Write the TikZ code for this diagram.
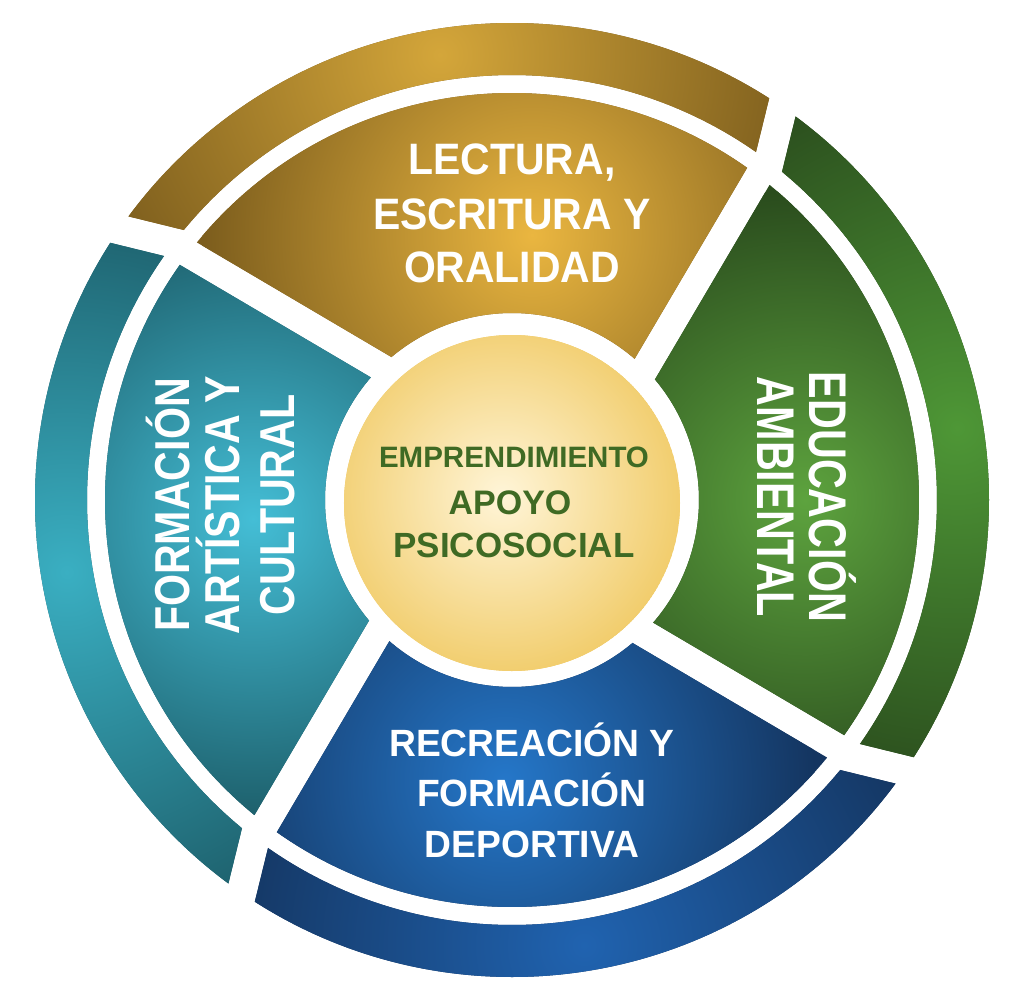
\documentclass[tikz,border=0pt]{standalone}
\usepackage{fontspec}
\setmainfont{Liberation Sans}
\usepackage{graphicx}
\usetikzlibrary{calc}
\definecolor{goldL}{HTML}{EAB640}
\definecolor{goldD}{HTML}{7C5D1D}
\definecolor{goldR}{HTML}{D4A63A}
\definecolor{tealL}{HTML}{44BED6}
\definecolor{tealD}{HTML}{1D5F6B}
\definecolor{tealR}{HTML}{3AAFC2}
\definecolor{grnL}{HTML}{5DA33E}
\definecolor{grnD}{HTML}{2A4C1D}
\definecolor{grnR}{HTML}{4E9736}
\definecolor{bluL}{HTML}{2577C9}
\definecolor{bluD}{HTML}{143560}
\definecolor{bluR}{HTML}{2063B0}
\definecolor{coreL}{HTML}{FFF5D8}
\definecolor{coreD}{HTML}{F1CC6A}
\definecolor{coreT}{HTML}{3F6A24}
% inner segment: #1 gap angle, #2 light, #3 dark, #4 spot (x,y), #5 shade radius
\newcommand\innerseg[5]{%
  \pgfmathsetmacro\sgA{#1}\pgfmathsetmacro\sgB{#1+90}%
  \begin{scope}
    \clip (\sgA-15:407) arc[start angle=\sgA-15, end angle=\sgB, radius=407]
      -- (\sgB:187) arc[start angle=\sgB, end angle=\sgA-15, radius=187] -- cycle;
    \clip ($(\sgA+180:100)+(\sgA-90:34)$) -- ($(\sgA:900)+(\sgA-90:34)$)
      -- (\sgA+45:1300) -- ($(\sgB:900)+(\sgB-90:62)$)
      -- ($(\sgB+180:100)+(\sgB-90:62)$) -- cycle;
    \fill[#3] (-600,-600) rectangle (600,600);
    \shade[inner color=#2, outer color=#3] (#4) circle (#5);
  \end{scope}}
% outer ring arc: #1 gap angle, #2 light, #3 dark, #4 shade radius
\newcommand\ringarc[4]{%
  \pgfmathsetmacro\rgA{#1}\pgfmathsetmacro\rgB{#1+90}%
  \pgfmathsetmacro\rgP{#1+22}\pgfmathsetmacro\rgQ{#1+112}%
  \begin{scope}
    \clip (\rgA-10:477) arc[start angle=\rgA-10, end angle=\rgB+10, radius=477]
      -- (\rgB+10:425) arc[start angle=\rgB+10, end angle=\rgA-10, radius=425] -- cycle;
    \clip ($(\rgA:451)+(\rgP+180:150)+(\rgP+90:15)$) -- ($(\rgA:451)+(\rgP:200)+(\rgP+90:15)$)
      -- (\rgA+45:1300) -- ($(\rgB:451)+(\rgQ:200)+(\rgQ-90:15)$)
      -- ($(\rgB:451)+(\rgQ+180:150)+(\rgQ-90:15)$) -- cycle;
    \fill[#3] (-600,-600) rectangle (600,600);
    \shade[inner color=#2, outer color=#3] (\rgA+45:451) circle (#4);
  \end{scope}}
\newcommand\labtxt[3]{\scalebox{#2}[1]{\fontsize{#1}{#1}\selectfont\bfseries #3}}
\tikzset{
  seglab/.style={text=white, anchor=base, inner sep=0pt},
  corelab/.style={text=coreT, anchor=base, inner sep=0pt}
}
\begin{document}
\begin{tikzpicture}[x=1pt,y=1pt]
\useasboundingbox (-512,-499) rectangle (512,500);
\fill[white] (-512,-499) rectangle (512,500);
% outer ring
\ringarc{54.2}{goldR}{goldD}{370}
\ringarc{144.2}{tealR}{tealD}{370}
\ringarc{234.2}{bluR}{bluD}{370}
\ringarc{324.2}{grnR}{grnD}{370}
% inner segments
\innerseg{59.5}{goldL}{goldD}{20,265}{330}
\innerseg{149.5}{tealL}{tealD}{-259,-19}{300}
\innerseg{239.5}{bluL}{bluD}{-7,-280}{310}
\innerseg{329.5}{grnL}{grnD}{293,0}{310}
% core
\begin{scope}
  \clip (0,-3) circle (168);
  \fill[coreD] (0,-3) circle (168);
  \shade[inner color=coreL, outer color=coreD] (-10,5) circle (185);
\end{scope}
% top label
\node[seglab] (top1) at (0,325) {\labtxt{44}{0.93}{LECTURA,}};
\node[seglab] (top2) at (0,270) {\labtxt{44}{0.93}{ESCRITURA Y}};
\node[seglab] (top3) at (0,218) {\labtxt{44}{0.93}{ORALIDAD}};
% left label
\node[seglab, rotate=90] (lft1) at (-322,-5) {\labtxt{49}{0.84}{FORMACIÓN}};
\node[seglab, rotate=90] (lft2) at (-272,-5) {\labtxt{49}{0.84}{ARTÍSTICA Y}};
\node[seglab, rotate=90] (lft3) at (-217,-5) {\labtxt{49}{0.84}{CULTURAL}};
% right label
\node[seglab, rotate=-90] (rgt1) at (297,3) {\labtxt{53}{0.78}{EDUCACIÓN}};
\node[seglab, rotate=-90] (rgt2) at (245,3) {\labtxt{53}{0.78}{AMBIENTAL}};
% bottom label
\node[seglab] (bot1) at (20,-256) {\labtxt{38}{0.98}{RECREACIÓN Y}};
\node[seglab] (bot2) at (20,-306) {\labtxt{38}{0.98}{FORMACIÓN}};
\node[seglab] (bot3) at (20,-357) {\labtxt{38}{0.98}{DEPORTIVA}};
% core label
\node[corelab] (c1) at (2,33) {\labtxt{29.5}{1}{EMPRENDIMIENTO}};
\node[corelab] (c2) at (-2,-14) {\labtxt{34}{1}{APOYO}};
\node[corelab] (c3) at (2,-57) {\labtxt{35}{1}{PSICOSOCIAL}};
\end{tikzpicture}
\end{document}
